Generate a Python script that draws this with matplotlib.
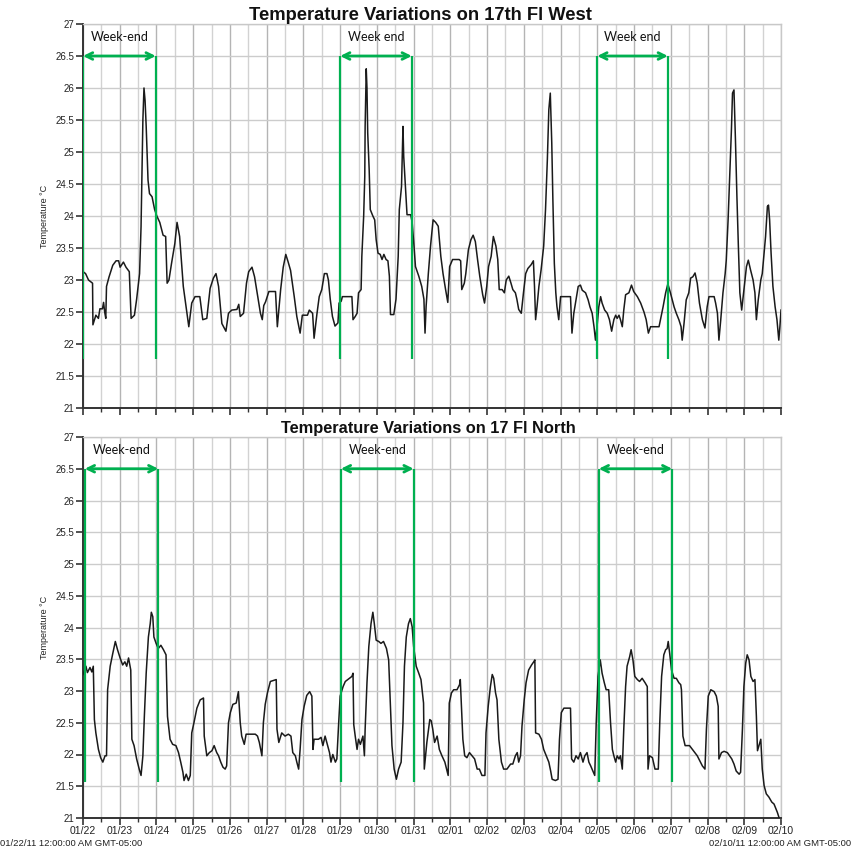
import matplotlib
matplotlib.use("Agg")
import matplotlib.pyplot as plt
from matplotlib.ticker import MultipleLocator, FixedLocator
import numpy as np

# ---------------- data ----------------
# time in days after 01/22/11 00:00
west_t = [0.00, 0.07, 0.15, 0.26, 0.27, 0.35, 0.42, 0.46, 0.53, 0.56, 0.59, 0.62, 0.64, 0.71, 0.81, 0.90,
          0.97, 1.01, 1.10, 1.17, 1.26, 1.31, 1.40, 1.46, 1.54, 1.58, 1.63, 1.66, 1.69, 1.72, 1.77, 1.81,
          1.88, 1.95, 2.01, 2.09, 2.18, 2.25, 2.29, 2.34, 2.41, 2.50, 2.56, 2.63, 2.73, 2.80, 2.88, 2.96,
          3.05, 3.18, 3.26, 3.37, 3.46, 3.55, 3.62, 3.69, 3.78, 3.89, 3.96, 4.05, 4.19, 4.24, 4.28, 4.37,
          4.45, 4.51, 4.60, 4.67, 4.74, 4.83, 4.88, 4.92, 4.97, 5.06, 5.24, 5.29, 5.38, 5.45, 5.52, 5.58,
          5.65, 5.75, 5.82, 5.91, 5.97, 6.11, 6.16, 6.25, 6.29, 6.37, 6.43,
          6.50, 6.57, 6.64, 6.68, 6.73, 6.79, 6.86, 6.94, 6.97, 7.03, 7.06, 7.32, 7.35, 7.41, 7.46, 7.50,
          7.57, 7.59, 7.64, 7.67, 7.68, 7.71, 7.73, 7.75, 7.79, 7.82, 7.89, 7.94, 7.98, 8.03, 8.09, 8.14,
          8.19, 8.25, 8.30, 8.34, 8.37, 8.46, 8.52, 8.58, 8.61, 8.67, 8.71, 8.73, 8.76, 8.80, 8.82, 8.92,
          8.96, 9.01, 9.05, 9.14, 9.22, 9.28, 9.31, 9.34, 9.40, 9.46, 9.53, 9.60, 9.67, 9.74, 9.80, 9.87,
          9.93, 9.98, 10.06, 10.24, 10.28, 10.31, 10.38, 10.42, 10.49, 10.56, 10.62, 10.68, 10.74, 10.80,
          10.88, 10.93, 10.99, 11.04, 11.11, 11.17, 11.24, 11.29, 11.33, 11.41, 11.47, 11.52, 11.59, 11.65,
          11.70, 11.77, 11.81, 11.86, 11.93, 11.99, 12.05, 12.11, 12.20, 12.26, 12.29, 12.32, 12.36, 12.41,
          12.47, 12.54, 12.59, 12.64, 12.68, 12.72, 12.76, 12.79, 12.83, 12.87, 12.90, 12.95, 13.00, 13.11,
          13.27, 13.31, 13.36, 13.42, 13.48, 13.54, 13.59, 13.68, 13.75, 13.80, 13.86, 13.91, 13.95, 14.00,
          14.04, 14.09, 14.13, 14.20, 14.27, 14.33, 14.39, 14.45, 14.50, 14.54, 14.59, 14.63, 14.68, 14.72,
          14.77, 14.86, 14.93, 14.99, 15.09, 15.18, 15.27, 15.33, 15.39, 15.45, 15.68, 15.72, 15.79, 15.86,
          15.92, 15.99, 16.09, 16.15, 16.22, 16.28, 16.31, 16.36, 16.42, 16.49, 16.54, 16.60, 16.66, 16.72,
          16.78, 16.86, 16.93, 16.99, 17.04, 17.18, 17.22, 17.27, 17.31, 17.36, 17.42, 17.48, 17.51, 17.56,
          17.60, 17.65, 17.68, 17.72, 17.76, 17.80, 17.84, 17.88, 17.93, 17.99, 18.06, 18.11, 18.17, 18.24,
          18.29, 18.33, 18.38, 18.45, 18.49, 18.54, 18.58, 18.63, 18.66, 18.69, 18.73, 18.78, 18.84, 18.89,
          18.94, 18.97, 19.00]
west_v = [23.13, 23.1, 23.0, 22.95, 22.3, 22.45, 22.4, 22.55, 22.55, 22.65, 22.5, 22.4, 22.9, 23.05, 23.23, 23.3,
          23.3, 23.2, 23.28, 23.2, 23.13, 22.4, 22.45, 22.7, 23.1, 23.83, 25.5, 26.0, 25.8, 25.4, 24.56, 24.35,
          24.3, 24.1, 24.0, 23.9, 23.7, 23.68, 22.95, 23.0, 23.26, 23.57, 23.9, 23.68, 22.9, 22.6, 22.27, 22.64,
          22.74, 22.74, 22.38, 22.4, 22.87, 23.03, 23.1, 22.9, 22.32, 22.2, 22.48, 22.53, 22.54, 22.62, 22.43, 22.48,
          22.95, 23.13, 23.2, 23.05, 22.8, 22.48, 22.38, 22.6, 22.66, 22.82, 22.82, 22.27, 22.85, 23.2, 23.4, 23.29,
          23.15, 22.74, 22.43, 22.17, 22.45, 22.45, 22.53, 22.48, 22.09, 22.48, 22.74,
          22.85, 23.1, 23.1, 23.0, 22.7, 22.43, 22.28, 22.33, 22.64, 22.67, 22.74, 22.74, 22.38, 22.43, 22.48, 22.8,
          22.85, 23.37, 24.0, 24.62, 25.4, 26.3, 26.0, 25.3, 24.72, 24.1, 24.0, 23.94, 23.63, 23.42, 23.4, 23.32,
          23.4, 23.32, 23.3, 23.06, 22.46, 22.46, 22.7, 23.37, 24.1, 24.46, 25.4, 24.93, 24.62, 24.2, 24.02, 24.02,
          23.9, 23.53, 23.21, 23.06, 22.9, 22.7, 22.17, 22.59, 23.1, 23.53, 23.94, 23.9, 23.84, 23.37, 23.1, 22.85,
          22.65, 23.21, 23.32, 23.32, 23.3, 22.85, 22.95, 23.1, 23.47, 23.63, 23.7, 23.6, 23.32, 23.06,
          22.77, 22.64, 22.9, 23.21, 23.37, 23.68, 23.53, 23.32, 22.85, 22.85, 22.8, 23.0, 23.06, 22.95,
          22.85, 22.8, 22.7, 22.54, 22.48, 22.8, 23.1, 23.18, 23.24, 23.3, 22.9, 22.38, 22.59, 22.9,
          23.16, 23.53, 24.1, 24.88, 25.66, 25.92, 25.14, 24.26, 23.26, 22.8, 22.59, 22.38, 22.74, 22.74,
          22.74, 22.17, 22.48, 22.69, 22.9, 22.92, 22.84, 22.8, 22.69, 22.58, 22.48, 22.27, 22.06, 22.32,
          22.58, 22.74, 22.64, 22.53, 22.48, 22.38, 22.2, 22.38, 22.45, 22.4, 22.45, 22.38, 22.27, 22.53,
          22.77, 22.8, 22.92, 22.82, 22.74, 22.64, 22.5, 22.38, 22.17, 22.27, 22.27, 22.38, 22.58, 22.8,
          22.94, 22.8, 22.58, 22.48, 22.38, 22.27, 22.06, 22.32, 22.69, 22.8, 23.03, 23.05, 23.11, 22.95,
          22.64, 22.38, 22.25, 22.58, 22.74, 22.74, 22.64, 22.48, 22.06, 22.38, 22.8, 23.1, 23.31, 23.94,
          24.56, 25.34, 25.92, 25.97, 25.19, 24.3, 23.52, 22.8, 22.53, 22.84, 23.21, 23.31, 23.16, 23.0,
          22.8, 22.38, 22.69, 23.0, 23.1, 23.42, 23.68, 24.15, 24.17, 23.94, 23.42, 22.9, 22.58, 22.38,
          22.06, 22.27, 22.53]

north_t = [0.00, 0.08, 0.12, 0.19, 0.24, 0.28, 0.31, 0.35, 0.42, 0.48, 0.54, 0.60, 0.64, 0.67, 0.74, 0.81,
           0.88, 0.94, 1.01, 1.08, 1.14, 1.19, 1.24, 1.30, 1.33, 1.39, 1.46, 1.53, 1.58, 1.63, 1.67, 1.72,
           1.78, 1.83, 1.86, 1.90, 1.93, 1.99, 2.05, 2.12, 2.19, 2.26, 2.30, 2.37, 2.44, 2.53, 2.60, 2.66,
           2.72, 2.75, 2.81, 2.87, 2.92, 2.96, 3.02, 3.10, 3.19, 3.28, 3.30, 3.37, 3.44, 3.51, 3.57, 3.64,
           3.69, 3.75, 3.81, 3.87, 3.91, 3.96, 4.01, 4.08, 4.17, 4.23, 4.28, 4.32, 4.39, 4.44, 4.69, 4.75,
           4.80, 4.87, 4.91, 4.96, 5.02, 5.10, 5.26, 5.28, 5.33, 5.41, 5.50, 5.59, 5.66, 5.71, 5.78, 5.82,
           5.87, 5.91, 5.96, 6.02, 6.09, 6.17, 6.23, 6.26, 6.29, 6.41, 6.48, 6.53, 6.59, 6.66, 6.71, 6.75,
           6.80, 6.87, 6.91, 6.96, 7.00, 7.08, 7.14, 7.23, 7.32, 7.35, 7.37, 7.41, 7.46, 7.50, 7.55, 7.62,
           7.66, 7.68, 7.73, 7.78, 7.84, 7.89, 7.93, 7.98, 8.05, 8.11, 8.18, 8.26, 8.32, 8.37, 8.41, 8.47,
           8.53, 8.59, 8.66, 8.71, 8.75, 8.80, 8.86, 8.91, 8.96, 9.00, 9.07, 9.14, 9.20, 9.27, 9.29, 9.36,
           9.44, 9.48, 9.52, 9.57, 9.64, 9.70, 9.77, 9.85, 9.94, 9.97, 10.03, 10.09, 10.18, 10.25, 10.27, 10.30,
           10.34, 10.39, 10.45, 10.52, 10.59, 10.66, 10.73, 10.79, 10.86, 10.94, 10.97, 11.03, 11.09, 11.14,
           11.18, 11.23, 11.27, 11.32, 11.39, 11.45, 11.54, 11.64, 11.70, 11.77, 11.82, 11.86, 11.91, 11.95,
           12.01, 12.06, 12.13, 12.21, 12.27, 12.30, 12.32, 12.41, 12.48, 12.54, 12.61, 12.68, 12.73, 12.77,
           12.86, 12.93, 12.97, 13.02, 13.09, 13.27, 13.30, 13.36, 13.42, 13.48, 13.54, 13.61, 13.66, 13.72,
           13.77, 13.82, 13.88, 13.93, 13.97, 14.02, 14.08, 14.13, 14.19, 14.24, 14.31, 14.36, 14.41, 14.45,
           14.50, 14.54, 14.59, 14.63, 14.68, 14.72, 14.77, 14.81, 14.88, 14.92, 14.97, 15.02, 15.09, 15.15,
           15.22, 15.30, 15.36, 15.38, 15.42, 15.50, 15.57, 15.66, 15.70, 15.75, 15.81, 15.86, 15.90, 15.93,
           15.97, 16.02, 16.09, 16.15, 16.22, 16.27, 16.29, 16.33, 16.39, 16.51, 16.59, 16.66, 16.72, 16.79,
           16.86, 16.93, 16.97, 17.02, 17.09, 17.18, 17.24, 17.29, 17.31, 17.38, 17.45, 17.54, 17.60, 17.66,
           17.72, 17.78, 17.86, 17.90, 17.95, 17.99, 18.04, 18.08, 18.13, 18.18, 18.24, 18.29, 18.33, 18.36,
           18.40, 18.45, 18.49, 18.54, 18.60, 18.67, 18.75, 18.81, 18.86, 18.90, 18.95]
north_v = [23.26, 23.39, 23.29, 23.37, 23.3, 23.39, 22.55, 22.34, 22.08, 21.95, 21.88, 21.98, 21.98, 23.02, 23.39, 23.59,
           23.78, 23.65, 23.52, 23.41, 23.46, 23.39, 23.52, 23.33, 22.24, 22.14, 21.93, 21.77, 21.67, 21.98, 22.6, 23.28,
           23.85, 24.06, 24.24, 24.17, 23.85, 23.75, 23.67, 23.72, 23.65, 23.57, 22.6, 22.24, 22.16, 22.14, 22.03, 21.88,
           21.72, 21.59, 21.69, 21.59, 21.67, 22.34, 22.5, 22.73, 22.86, 22.89, 22.29, 21.98, 22.03, 22.06, 22.14, 22.03,
           21.98, 21.88, 21.8, 21.77, 21.82, 22.5, 22.66, 22.79, 22.81, 22.99, 22.5, 22.29, 22.16, 22.32, 22.32, 22.29,
           22.19, 21.98, 22.5, 22.79, 22.97, 23.15, 23.18, 22.4, 22.19, 22.34, 22.29, 22.32, 22.29, 22.03, 21.98, 21.88,
           21.77, 22.08, 22.55, 22.76, 22.93, 22.99, 22.92, 22.08, 22.24, 22.24, 22.27, 22.14, 22.29, 22.14, 22.03, 21.88,
           22.0, 21.88, 21.93, 22.5, 22.92, 23.07, 23.15, 23.19, 23.23, 23.28, 22.47, 22.29, 22.08, 22.24, 22.16, 22.29,
           21.98, 22.4, 23.13, 23.7, 24.06, 24.24, 24.06, 23.8, 23.78, 23.75, 23.78, 23.67, 23.49, 22.76, 22.14, 21.77,
           21.61, 21.77, 21.88, 22.5, 23.39, 23.85, 24.06, 24.14, 24.01, 23.7, 23.39, 23.28, 23.18, 22.81, 21.77, 22.19,
           22.55, 22.53, 22.4, 22.19, 22.29, 22.08, 21.98, 21.88, 21.67, 22.81, 22.97, 23.02, 23.02, 23.1, 23.18, 22.76,
           22.24, 21.98, 21.95, 22.03, 21.98, 21.93, 21.77, 21.77, 21.67, 21.67, 22.34, 22.76, 23.07, 23.26,
           23.2, 22.97, 22.86, 22.24, 21.88, 21.77, 21.77, 21.85, 21.85, 21.98, 22.03, 21.88, 21.98, 22.45,
           22.86, 23.13, 23.33, 23.41, 23.46, 23.49, 22.34, 22.32, 22.24, 22.08, 21.98, 21.88, 21.74, 21.61,
           21.59, 21.61, 22.24, 22.66, 22.73, 22.73, 21.93, 21.88, 21.98, 21.93, 22.03, 21.88, 21.98, 22.03,
           21.88, 21.82, 21.74, 21.67, 22.5, 23.23, 23.49, 23.28, 23.13, 23.02, 23.02, 22.5, 22.08, 21.98,
           21.88, 21.98, 21.93, 21.98, 21.77, 22.4, 23.07, 23.39, 23.54, 23.65, 23.49, 23.23, 23.18, 23.15,
           23.2, 23.13, 23.07, 21.77, 21.98, 21.95, 21.77, 21.77, 22.5, 23.23, 23.57, 23.65, 23.67, 23.78,
           23.59, 23.33, 23.2, 23.2, 23.13, 23.1, 23.02, 22.29, 22.14, 22.14, 22.08, 22.03, 21.98, 21.9,
           21.82, 21.77, 22.4, 22.92, 23.02, 22.99, 22.92, 22.76, 21.93, 22.03, 22.05, 22.03, 21.98, 21.93,
           21.85, 21.74, 21.69, 21.72, 22.4, 23.07, 23.44, 23.57, 23.49, 23.23, 23.15, 23.18, 22.6, 22.06,
           22.14, 22.24, 21.77, 21.51, 21.38, 21.33, 21.25, 21.22, 21.15, 21.09, 21.0]

day_labels = ["01/22", "01/23", "01/24", "01/25", "01/26", "01/27", "01/28", "01/29", "01/30", "01/31",
              "02/01", "02/02", "02/03", "02/04", "02/05", "02/06", "02/07", "02/08", "02/09", "02/10"]

titles = ["Temperature Variations on 17th Fl West", "Temperature Variations on 17 Fl North"]

# week-end markers: (start day, end day) for each panel
west_weekends = [(0.0, 1.98), (7.0, 8.95), (14.0, 15.92)]
north_weekends = [(0.05, 2.05), (7.02, 9.0), (14.04, 16.04)]
west_weekend_text = ["Week-end", "Week end", "Week end"]
north_weekend_text = ["Week-end", "Week-end", "Week-end"]
west_green_bottom = 21.76
north_green_bottom = 21.56

start_label = "01/22/11 12:00:00 AM GMT-05:00"
end_label = "02/10/11 12:00:00 AM GMT-05:00"

# ---------------- drawing ----------------
W, H = 852, 851
fig = plt.figure(figsize=(W / 100, H / 100), dpi=100)
plt.rcParams['font.family'] = ['Liberation Sans', 'DejaVu Sans']

GREEN = '#00b050'

def px_axes(left, top, right, bottom):
    return fig.add_axes([left / W, 1 - bottom / H, (right - left) / W, (bottom - top) / H])

ax1 = px_axes(83, 24, 781, 408)
ax2 = px_axes(83, 437, 781, 818)

# title settings: (font size, centre x px, centre y px)
title_style = [(13.2, 420, 15), (11.8, 428, 428)]

panels = [(ax1, west_t, west_v, west_weekends, west_weekend_text, west_green_bottom, False),
          (ax2, north_t, north_v, north_weekends, north_weekend_text, north_green_bottom, True)]

for i, (ax, t, v, wk, wtxt, gbot, show_x) in enumerate(panels):
    ax.set_xlim(0, 19)
    ax.set_ylim(21, 27)
    ax.xaxis.set_major_locator(FixedLocator(np.arange(0, 20)))
    ax.xaxis.set_minor_locator(MultipleLocator(0.5))
    ax.yaxis.set_major_locator(MultipleLocator(0.5))
    ax.grid(which='major', axis='x', color='#b4b4b4', lw=1.0)
    ax.grid(which='minor', axis='x', color='#d2d2d2', lw=1.0)
    ax.grid(which='major', axis='y', color='#cccccc', lw=1.0)
    ax.set_axisbelow(True)
    for s in ['top', 'right']:
        ax.spines[s].set_color('#c8c8c8')
        ax.spines[s].set_linewidth(1.0)
    for s in ['left', 'bottom']:
        ax.spines[s].set_color('#333333')
        ax.spines[s].set_linewidth(1.4)
    ax.tick_params(axis='y', which='major', length=5, width=1.2, color='#333333',
                   labelsize=7, labelcolor='#222222', pad=1)
    ax.tick_params(axis='x', which='major', length=5, width=1.2, color='#333333',
                   labelsize=7.5, labelcolor='#222222', pad=1)
    ax.tick_params(axis='x', which='minor', length=3, width=1.0, color='#333333')
    ylabels = [("%g" % y) for y in np.arange(21, 27.01, 0.5)]
    ax.set_yticks(np.arange(21, 27.01, 0.5))
    ax.set_yticklabels(ylabels)
    if show_x:
        ax.set_xticklabels(day_labels)
    else:
        ax.set_xticklabels([])
    ax.set_ylabel("Temperature °C", fontsize=6.5, color='#222222', labelpad=5)

    fs, tx, ty = title_style[i]
    fig.text(tx / W, 1 - ty / H, titles[i], ha='center', va='center', fontsize=fs,
             fontweight='bold', color='#111111')

    ax.plot(t, v, color='#1a1a1a', lw=1.1, zorder=3)

    for (a, b), txt in zip(wk, wtxt):
        ax.plot([a, a], [gbot, 26.5], color=GREEN, lw=1.6, zorder=4, solid_capstyle='butt')
        ax.plot([b, b], [gbot, 26.5], color=GREEN, lw=1.6, zorder=4, solid_capstyle='butt')
        ax.annotate('', xy=(a, 26.5), xytext=(b, 26.5),
                    arrowprops=dict(arrowstyle='<->', color=GREEN, lw=2.0,
                                    shrinkA=0, shrinkB=0, mutation_scale=12), zorder=5)
        ax.text((a + b) / 2, 26.8, txt, ha='center', va='center', fontsize=9,
                family=['Lato', 'DejaVu Sans'], color='#111111', zorder=5)

fig.text(0.5 / W, 1 - 843 / H, start_label, ha='left', va='center', fontsize=6.8, color='#222222')
fig.text(1 - 0.5 / W, 1 - 843 / H, end_label, ha='right', va='center', fontsize=6.8, color='#222222')

fig.savefig("out.png", dpi=100)
